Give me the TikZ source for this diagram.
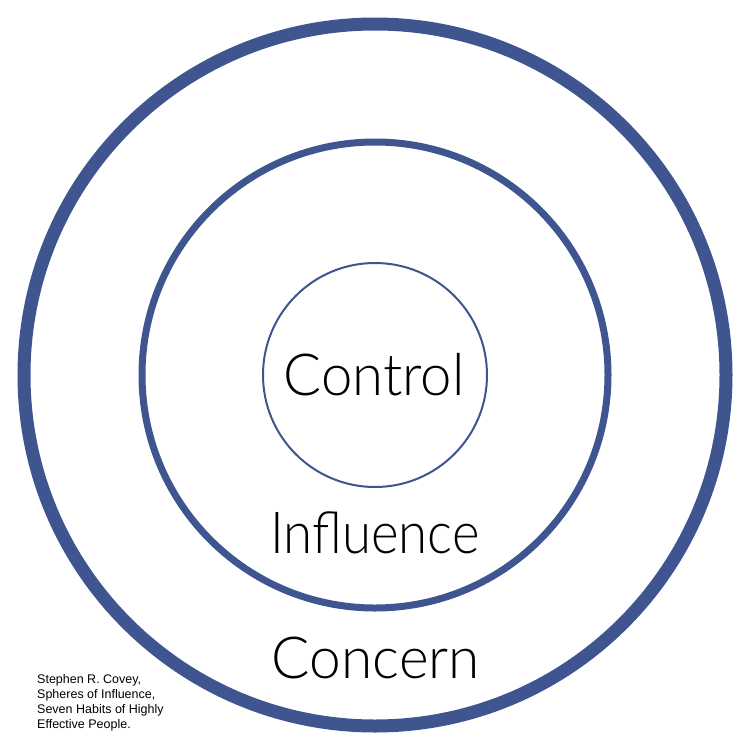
\documentclass[tikz,border=0pt]{standalone}
\usepackage{fontspec}
\setmainfont{Lato}
\IfFontExistsTF{Lato Light}{\newfontfamily\wordfont{Lato Light}}{\newfontfamily\wordfont{Lato}}
\newfontfamily\citefont{Liberation Sans}
\definecolor{ringblue}{RGB}{62,85,144}
\begin{document}
\begin{tikzpicture}[x=1pt,y=-1pt,
  ring/.style={draw=ringblue},
  bigword/.style={anchor=base,inner sep=0pt,font=\wordfont\fontsize{58}{60}\selectfont},
  citetext/.style={anchor=north west,inner sep=0pt,align=left,font=\citefont\fontsize{12.5}{15}\selectfont}]
\useasboundingbox (0,0) rectangle (750,750);
\fill[white] (0,0) rectangle (750,750);
\coordinate (c) at (375,375);
\draw[ring,line width=13pt] (c) circle[radius=351pt];
\draw[ring,line width=7pt] (c) circle[radius=233pt];
\draw[ring,line width=2pt] (c) circle[radius=112pt];
\node[bigword] (control) at (374,395) {\scalebox{0.97}[1]{Control}};
\node[bigword] (influence) at (375,553) {\scalebox{0.91}[1]{Influence}};
\node[bigword] (concern) at (376,678) {\scalebox{0.98}[1]{Concern}};
\node[citetext] (cite) at (37,674) {Stephen R. Covey,\\Spheres of Influence,\\Seven Habits of Highly\\Effective People.};
\end{tikzpicture}
\end{document}
